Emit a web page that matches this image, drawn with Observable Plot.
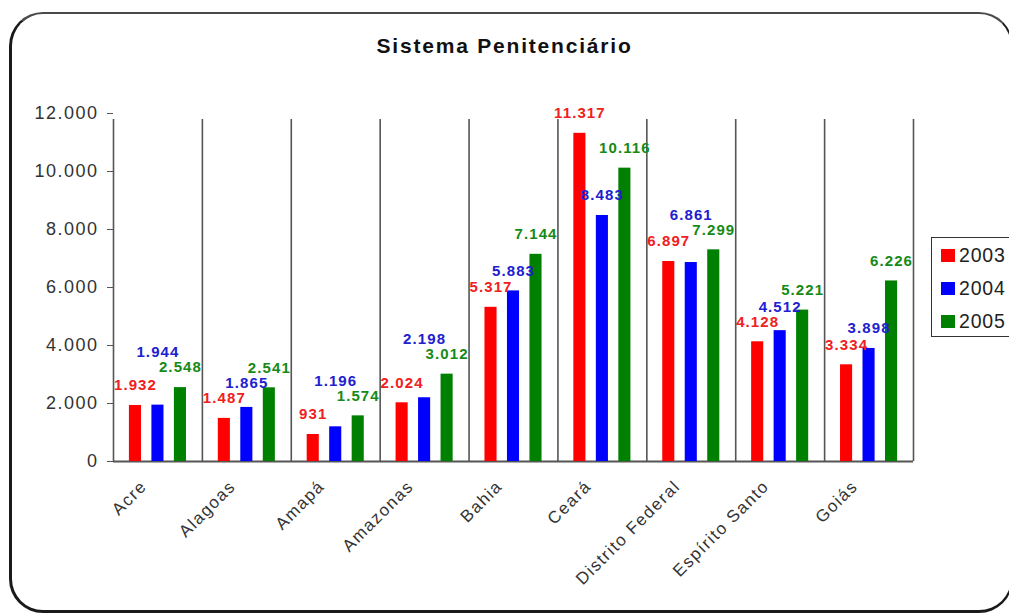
<!DOCTYPE html>
<html>
<head>
<meta charset="utf-8">
<script src="https://cdn.jsdelivr.net/npm/d3@7"></script>
<script src="https://cdn.jsdelivr.net/npm/@observablehq/plot@0.6"></script>
<style>
  body { margin: 0; background: #fff; font-family: "Liberation Sans", Arial, sans-serif; }
  #frame { position: absolute; left: 9px; top: 12px; width: 1004px; height: 601px; box-sizing: border-box;
           border: 2px solid #4a4a4a; border-left: 3px solid #1a1a1a; border-bottom: 3px solid #1a1a1a;
           border-right-color: #1a1a1a; border-radius: 34px; }
  #title { position: absolute; left: 0; top: 34px; width: 1009px; text-align: center; font-weight: bold;
           font-size: 21px; letter-spacing: 1.8px; color: #111; }
  #chart { position: absolute; left: 0; top: 80px; }
  #legend { position: absolute; left: 931px; top: 237px; width: 130px; height: 100px; box-sizing: border-box;
            border: 1.5px solid #333; background: #fff; }
  .item { position: absolute; left: 9px; display: flex; align-items: center; font-size: 19.5px;
          letter-spacing: 0.8px; color: #222; }
  .sw { width: 14px; height: 13px; margin-right: 4px; }
  g[aria-label="text"] text { letter-spacing: 1.1px; }
  g[aria-label="x-axis tick label"] text { letter-spacing: 1.5px; }
  g[aria-label="y-axis tick label"] text { letter-spacing: 1.5px; }
</style>
</head>
<body>
<div id="frame"></div>
<div id="title">Sistema Penitenciário</div>
<div id="chart"></div>
<div id="legend"></div>
<script>
// Inmates per state, 2003–2005
const states = ["Acre", "Alagoas", "Amapá", "Amazonas", "Bahia", "Ceará", "Distrito Federal", "Espírito Santo", "Goiás"];
const years = ["2003", "2004", "2005"];
const values2003 = [1932, 1487, 931, 2024, 5317, 11317, 6897, 4128, 3334];
const values2004 = [1944, 1865, 1196, 2198, 5883, 8483, 6861, 4512, 3898];
const values2005 = [2548, 2541, 1574, 3012, 7144, 10116, 7299, 5221, 6226];
const yTicks = [0, 2000, 4000, 6000, 8000, 10000, 12000];

const barColors = ["#ff0000", "#0000ff", "#008000"];
const labelColors = ["#f02020", "#2020d0", "#168a16"];

// Brazilian number format: 11.317
const fmt = d3.formatLocale({decimal: ",", thousands: ".", grouping: [3], currency: ["R$", ""]}).format(",d");

const W = 1009, H = 520, mL = 113, mR = 96, mT = 33, mB = 139;
const yMax = 12000;
const pxPerUnit = (H - mT - mB) / yMax;
const groupStep = 0.253;   // spacing between the three bars of a state (in state units)
const halfBar = 0.068;     // half bar width (in state units)

const series = [values2003, values2004, values2005];
const bars = [];
states.forEach((s, i) => series.forEach((vals, j) =>
  bars.push({state: s, i, j, year: years[j], value: vals[i], cx: i + (j - 1) * groupStep})));

// Value labels sit 20px above each bar; the 2004 label is pushed up when it would collide.
const labels = [];
states.forEach((s, i) => {
  const b = bars.filter(d => d.i === i);
  const red = {...b[0], h: b[0].value * pxPerUnit + 20};
  const green = {...b[2], h: b[2].value * pxPerUnit + 20};
  let bh = b[1].value * pxPerUnit + 20;
  let moved = true;
  while (moved) {
    moved = false;
    for (const o of [red, green]) {
      if (Math.abs(o.h - bh) < 15) { bh = o.h + 15; moved = true; }
    }
  }
  labels.push(red, {...b[1], h: bh}, green);
});

const chart = Plot.plot({
  width: W, height: H,
  marginLeft: mL, marginRight: mR, marginTop: mT, marginBottom: mB,
  style: {fontFamily: "'Liberation Sans', Arial, sans-serif", background: "transparent", color: "#333", overflow: "visible"},
  x: {type: "linear", domain: [-0.5, states.length - 0.5], axis: null},
  y: {domain: [0, yMax], axis: null},
  color: {domain: years, range: barColors},
  marks: [
    Plot.ruleX(d3.range(states.length + 1).map(k => k - 0.5), {y1: 0, y2: yMax, stroke: "#555", strokeWidth: 1.6, insetBottom: -6}),
    Plot.ruleY([0], {stroke: "#555", strokeWidth: 2}),
    Plot.rectY(bars, {x1: d => d.cx - halfBar, x2: d => d.cx + halfBar, y1: 0, y2: "value", fill: "year"}),
    Plot.text(labels, {x: "cx", y: d => d.h / pxPerUnit, text: d => fmt(d.value), fill: d => labelColors[d.j],
                       fontWeight: "bold", fontSize: 15}),
    Plot.axisY({ticks: yTicks, tickFormat: fmt, tickSize: 6, tickPadding: 9, fontSize: 18, stroke: "#555", label: null}),
    Plot.axisX({ticks: d3.range(states.length), tickFormat: i => states[i], tickRotate: -45, tickSize: 0,
                tickPadding: 22, fontSize: 17, dx: -14, label: null})
  ]
});
document.getElementById("chart").appendChild(chart);

// Legend
const legend = document.getElementById("legend");
years.forEach((y, j) => {
  const item = document.createElement("div");
  item.className = "item";
  item.style.top = (6 + j * 33) + "px";
  item.innerHTML = `<span class="sw" style="background:${barColors[j]}"></span><span>${y}</span>`;
  legend.appendChild(item);
});
</script>
</body>
</html>
